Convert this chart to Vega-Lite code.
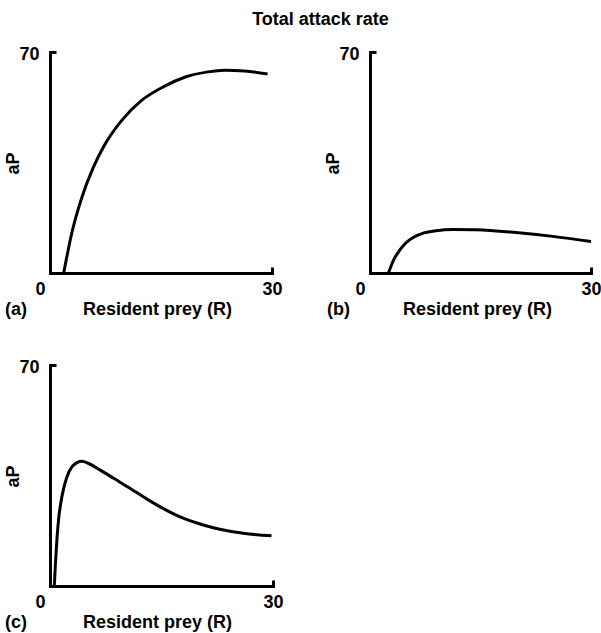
{
  "$schema": "https://vega.github.io/schema/vega-lite/v6.json",
  "padding": {"left": 4, "top": 11, "right": 5, "bottom": 5},
  "background": "white",
  "title": {"text": "Total attack rate", "fontSize": 18, "font": "Liberation Sans", "fontWeight": "bold", "color": "black", "anchor": "middle", "offset": 16, "dx": 18},
  "data": {"values": [
    {"panel": "a", "R": 1.85, "aP": 0},
    {"panel": "a", "R": 2.97, "aP": 12.9},
    {"panel": "a", "R": 4.23, "aP": 23.4},
    {"panel": "a", "R": 5.81, "aP": 33.2},
    {"panel": "a", "R": 7.39, "aP": 40.6},
    {"panel": "a", "R": 9.64, "aP": 48.2},
    {"panel": "a", "R": 12.34, "aP": 54.6},
    {"panel": "a", "R": 15.5, "aP": 59.2},
    {"panel": "a", "R": 18.2, "aP": 62.0},
    {"panel": "a", "R": 21.35, "aP": 63.7},
    {"panel": "a", "R": 23.6, "aP": 64.2},
    {"panel": "a", "R": 26.3, "aP": 64.0},
    {"panel": "a", "R": 29.4, "aP": 63.0},
    {"panel": "b", "R": 2.5, "aP": 0},
    {"panel": "b", "R": 3.26, "aP": 4.4},
    {"panel": "b", "R": 3.94, "aP": 6.9},
    {"panel": "b", "R": 4.85, "aP": 9.5},
    {"panel": "b", "R": 5.98, "aP": 11.4},
    {"panel": "b", "R": 7.33, "aP": 12.7},
    {"panel": "b", "R": 8.95, "aP": 13.4},
    {"panel": "b", "R": 11.2, "aP": 13.8},
    {"panel": "b", "R": 14.4, "aP": 13.7},
    {"panel": "b", "R": 19.8, "aP": 12.8},
    {"panel": "b", "R": 24.8, "aP": 11.6},
    {"panel": "b", "R": 30.0, "aP": 10.0},
    {"panel": "c", "R": 0.58, "aP": 0},
    {"panel": "c", "R": 0.72, "aP": 6.6},
    {"panel": "c", "R": 0.94, "aP": 15.0},
    {"panel": "c", "R": 1.17, "aP": 21.4},
    {"panel": "c", "R": 1.48, "aP": 26.7},
    {"panel": "c", "R": 1.84, "aP": 30.9},
    {"panel": "c", "R": 2.29, "aP": 34.6},
    {"panel": "c", "R": 2.96, "aP": 37.8},
    {"panel": "c", "R": 3.63, "aP": 39.1},
    {"panel": "c", "R": 4.31, "aP": 39.5},
    {"panel": "c", "R": 5.2, "aP": 38.8},
    {"panel": "c", "R": 6.77, "aP": 36.7},
    {"panel": "c", "R": 8.57, "aP": 34.1},
    {"panel": "c", "R": 10.8, "aP": 30.9},
    {"panel": "c", "R": 13.0, "aP": 27.6},
    {"panel": "c", "R": 15.5, "aP": 24.2},
    {"panel": "c", "R": 18.0, "aP": 21.4},
    {"panel": "c", "R": 20.5, "aP": 19.4},
    {"panel": "c", "R": 23.0, "aP": 17.9},
    {"panel": "c", "R": 26.0, "aP": 16.7},
    {"panel": "c", "R": 29.8, "aP": 15.9}
  ]},
  "columns": 2,
  "bounds": "flush",
  "spacing": {"row": 92, "column": 97},
  "concat": [
    {
      "width": 222, "height": 221,
      "transform": [{"filter": "datum.panel == 'a'"}],
      "title": {"text": "(a)", "orient": "bottom", "anchor": "start", "frame": "group", "dx": -45, "dy": -3, "baseline": "alphabetic", "offset": 0},
      "mark": {"type": "line", "strokeWidth": 3, "color": "black", "interpolate": "monotone"},
      "encoding": {
        "x": {"field": "R", "type": "quantitative", "scale": {"domain": [0, 30], "nice": false}, "axis": {"title": "Resident prey (R)", "values": [0, 30]}},
        "y": {"field": "aP", "type": "quantitative", "scale": {"domain": [0, 70], "nice": false}, "axis": {"title": "aP", "values": [70]}}
      }
    },
    {
      "width": 221, "height": 221,
      "transform": [{"filter": "datum.panel == 'b'"}],
      "title": {"text": "(b)", "orient": "bottom", "anchor": "start", "frame": "group", "dx": -43, "dy": -3, "baseline": "alphabetic", "offset": 0},
      "mark": {"type": "line", "strokeWidth": 3, "color": "black", "interpolate": "monotone"},
      "encoding": {
        "x": {"field": "R", "type": "quantitative", "scale": {"domain": [0, 30], "nice": false}, "axis": {"title": "Resident prey (R)", "values": [0, 30]}},
        "y": {"field": "aP", "type": "quantitative", "scale": {"domain": [0, 70], "nice": false}, "axis": {"title": "aP", "values": [70]}}
      }
    },
    {
      "width": 223, "height": 221,
      "transform": [{"filter": "datum.panel == 'c'"}],
      "title": {"text": "(c)", "orient": "bottom", "anchor": "start", "frame": "group", "dx": -45, "dy": -3, "baseline": "alphabetic", "offset": 0},
      "mark": {"type": "line", "strokeWidth": 3, "color": "black", "interpolate": "monotone"},
      "encoding": {
        "x": {"field": "R", "type": "quantitative", "scale": {"domain": [0, 30], "nice": false}, "axis": {"title": "Resident prey (R)", "values": [0, 30]}},
        "y": {"field": "aP", "type": "quantitative", "scale": {"domain": [0, 70], "nice": false}, "axis": {"title": "aP", "values": [70]}}
      }
    }
  ],
  "config": {
    "view": {"stroke": null},
    "font": "Liberation Sans",
    "title": {"font": "Liberation Sans", "fontSize": 18, "fontWeight": "bold", "color": "black"},
    "axis": {
      "grid": false,
      "domainColor": "black",
      "domainWidth": 3,
      "domainCap": "square",
      "tickColor": "black",
      "tickWidth": 3,
      "tickSize": -6,
      "labelFont": "Liberation Sans",
      "labelFontSize": 18,
      "labelFontWeight": "bold",
      "labelColor": "black",
      "labelFlush": false,
      "labelOverlap": false,
      "titleFont": "Liberation Sans",
      "titleFontSize": 18,
      "titleFontWeight": "bold",
      "titleColor": "black"
    },
    "axisX": {
      "labelPadding": 13,
      "labelAlign": {"condition": {"test": "datum.value == 0", "value": "right"}, "value": "center"},
      "labelOffset": {"condition": {"test": "datum.value == 0", "value": -5}, "value": 0},
      "titleX": 107,
      "titleY": 41,
      "titleBaseline": "alphabetic"
    },
    "axisY": {
      "labelPadding": 17,
      "labelOffset": 2,
      "titleX": -32,
      "titleY": 111,
      "titleAngle": -90,
      "titleBaseline": "alphabetic"
    }
  }
}
